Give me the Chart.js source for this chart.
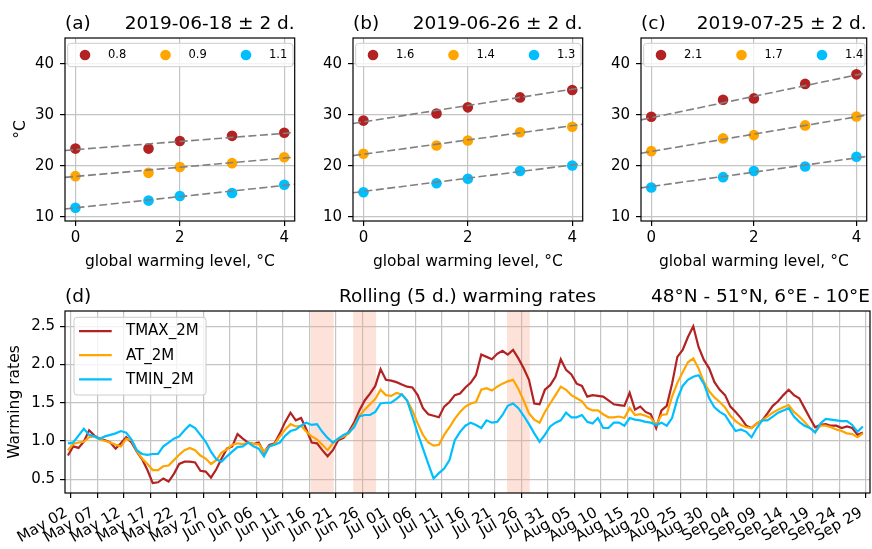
<!DOCTYPE html>
<html lang="en">
<head>
  <meta charset="UTF-8">
  <title>Warming rates</title>
  <script src="https://cdn.jsdelivr.net/npm/chart.js@4.4.1/dist/chart.umd.min.js"></script>
  <style>
    body { margin: 0; background: #fff; }
    #fig { position: relative; width: 872px; height: 549px; overflow: hidden; }
    #fig canvas { position: absolute; }
  </style>
</head>
<body>
<div id="fig">
  <canvas id="chartA" width="300" height="280" style="left:0;top:0"></canvas>
  <canvas id="chartB" width="300" height="280" style="left:288px;top:0"></canvas>
  <canvas id="chartC" width="296" height="280" style="left:576px;top:0"></canvas>
  <canvas id="chartD" width="872" height="269" style="left:0;top:280px"></canvas>
</div>

<script>
// ---- top panels: temperature vs global warming level ----
const gwl = [0, 1.4, 2, 3, 4];
const gwlRange = [-0.2, 4.2];
const gwlTicks = [0, 2, 4];
const tempRange = [9.2, 45.1];
const tempTicks = [10, 20, 30, 40];
const panelDates = ['2019-06-18', '2019-06-26', '2019-07-25'];
const halfWindow = 2;

const tmaxA = [23.4, 23.4, 24.9, 25.9, 26.5];
const atA   = [18.0, 18.65, 19.8, 20.55, 21.7];
const tminA = [11.8, 13.2, 14.1, 14.7, 16.3];
const slopesA = [0.8, 0.9, 1.1];
const interceptsA = [23.2, 17.94, 11.78];

const tmaxB = [28.9, 30.3, 31.5, 33.45, 34.9];
const atB   = [22.4, 24.0, 25.0, 26.6, 27.7];
const tminB = [14.85, 16.6, 17.5, 19.0, 20.1];
const slopesB = [1.6, 1.4, 1.3];
const interceptsB = [28.65, 22.3, 15.0];

const tmaxC = [29.65, 33.0, 33.25, 36.1, 37.97];
const atC   = [22.9, 25.4, 26.05, 27.95, 29.7];
const tminC = [15.77, 17.8, 19.0, 19.9, 21.8];
const slopesC = [2.1, 1.7, 1.4];
const interceptsC = [29.45, 22.84, 15.98];

// ---- bottom panel: rolling warming rates, daily from May 01 (day -1 = May 01, day 0 = May 02) ----
const firstDay = -1;
const dayOffset = 0.45;   // daily values sit a little after midnight on the axis
const tmaxRate = [
  0.81, 0.93, 0.91, 0.99, 1.14, 1.07, 1.03, 1.01, 0.98, 0.90,
  0.97, 1.05, 0.98, 0.86, 0.76, 0.62, 0.45, 0.46, 0.51, 0.47,
  0.57, 0.70, 0.73, 0.73, 0.72, 0.61, 0.60, 0.52, 0.63, 0.77,
  0.90, 0.93, 1.09, 1.03, 0.98, 0.96, 0.98, 0.85, 0.95, 0.97,
  1.10, 1.25, 1.37, 1.27, 1.30, 1.15, 0.98, 0.97, 0.88, 0.80,
  0.88, 1.01, 1.04, 1.12, 1.24, 1.40, 1.53, 1.62, 1.72, 1.94,
  1.80, 1.79, 1.77, 1.74, 1.71, 1.70, 1.60, 1.43, 1.35, 1.33,
  1.31, 1.45, 1.51, 1.60, 1.62, 1.70, 1.76, 1.86, 2.13, 2.10,
  2.07, 2.14, 2.18, 2.13, 2.19, 2.08, 1.95, 1.80, 1.49, 1.48,
  1.67, 1.73, 1.84, 2.07, 1.93, 1.87, 1.75, 1.72, 1.58, 1.60,
  1.59, 1.58, 1.53, 1.48, 1.47, 1.46, 1.63, 1.41, 1.45, 1.38,
  1.35, 1.17, 1.40, 1.46, 1.75, 2.10, 2.19, 2.36, 2.50, 2.23,
  2.06, 1.95, 1.77, 1.67, 1.60, 1.45, 1.38, 1.30, 1.20, 1.17,
  1.23, 1.27, 1.36, 1.46, 1.52, 1.60, 1.67, 1.60, 1.56, 1.43,
  1.30, 1.18, 1.21, 1.22, 1.20, 1.20, 1.17, 1.19, 1.17, 1.08,
  1.11
];
const atRate = [
  0.88, 0.96, 0.98, 0.99, 1.05, 1.06, 1.02, 1.00, 0.98, 0.95,
  0.93, 1.03, 1.01, 0.87, 0.77, 0.70, 0.62, 0.62, 0.67, 0.68,
  0.75, 0.82, 0.88, 0.91, 0.88, 0.81, 0.77, 0.70, 0.75, 0.85,
  0.89, 0.95, 0.97, 0.96, 0.98, 0.96, 0.96, 0.86, 0.93, 0.96,
  1.06, 1.15, 1.22, 1.19, 1.20, 1.12, 1.06, 1.02, 0.95, 0.88,
  0.97, 1.03, 1.06, 1.10, 1.20, 1.33, 1.41, 1.48, 1.55, 1.67,
  1.60, 1.59, 1.63, 1.61, 1.53, 1.40, 1.23, 1.08, 0.98, 0.94,
  0.95, 1.08, 1.18, 1.29, 1.38, 1.45, 1.49, 1.51, 1.67, 1.69,
  1.66, 1.71, 1.75, 1.78, 1.80, 1.68, 1.53, 1.36, 1.28, 1.24,
  1.38, 1.49, 1.60, 1.71, 1.67, 1.60, 1.56, 1.52, 1.43, 1.40,
  1.40, 1.35, 1.31, 1.31, 1.32, 1.30, 1.43, 1.34, 1.35, 1.33,
  1.30, 1.21, 1.34, 1.35, 1.58, 1.76, 1.90, 2.03, 2.08, 1.95,
  1.77, 1.65, 1.57, 1.51, 1.44, 1.33, 1.26, 1.21, 1.18, 1.17,
  1.23, 1.27, 1.32, 1.37, 1.41, 1.44, 1.47, 1.38, 1.32, 1.25,
  1.17, 1.12, 1.20, 1.20, 1.18, 1.15, 1.13, 1.10, 1.09, 1.05,
  1.10
];
const tminRate = [
  0.97, 0.98, 1.07, 1.16, 1.08, 1.06, 1.03, 1.06, 1.08, 1.10,
  1.13, 1.11, 1.02, 0.88, 0.83, 0.82, 0.83, 0.83, 0.93, 0.98,
  1.03, 1.06, 1.14, 1.21, 1.17, 1.08, 0.99, 0.86, 0.76, 0.73,
  0.80, 0.86, 0.92, 0.93, 0.98, 0.93, 0.90, 0.80, 0.93, 0.95,
  0.98, 1.07, 1.13, 1.15, 1.20, 1.24, 1.21, 1.22, 1.12, 1.04,
  0.98, 1.03, 1.08, 1.11, 1.18, 1.32, 1.34, 1.34, 1.38, 1.49,
  1.50, 1.50, 1.55, 1.61, 1.53, 1.32, 1.10, 0.90, 0.70, 0.51,
  0.58, 0.64, 0.75, 1.01, 1.12, 1.20, 1.24, 1.21, 1.17, 1.27,
  1.24, 1.25, 1.34, 1.46, 1.49, 1.43, 1.33, 1.22, 1.10, 0.99,
  1.08, 1.19, 1.24, 1.27, 1.37, 1.31, 1.31, 1.34, 1.25, 1.23,
  1.30, 1.17, 1.17, 1.24, 1.24, 1.20, 1.30, 1.28, 1.27, 1.25,
  1.24, 1.21, 1.24, 1.20, 1.30, 1.55, 1.72, 1.80, 1.84, 1.86,
  1.75, 1.56, 1.44, 1.38, 1.34, 1.23, 1.13, 1.15, 1.12, 1.05,
  1.17, 1.27, 1.27, 1.32, 1.37, 1.40, 1.43, 1.32, 1.25, 1.20,
  1.17, 1.11, 1.23, 1.29, 1.28, 1.27, 1.26, 1.26, 1.21, 1.12,
  1.19
];
const dayTickLabels = ['May 02', 'May 07', 'May 12', 'May 17', 'May 22', 'May 27',
  'Jun 01', 'Jun 06', 'Jun 11', 'Jun 16', 'Jun 21', 'Jun 26', 'Jul 01', 'Jul 06',
  'Jul 11', 'Jul 16', 'Jul 21', 'Jul 26', 'Jul 31', 'Aug 05', 'Aug 10', 'Aug 15',
  'Aug 20', 'Aug 25', 'Aug 30', 'Sep 04', 'Sep 09', 'Sep 14', 'Sep 19', 'Sep 24', 'Sep 29'];
const tickStepDays = 5;
const dayRange = [-1.1, 150.8];
const rateRange = [0.32, 2.70];
const rateTicks = [0.5, 1.0, 1.5, 2.0, 2.5];
const eventDays = [47, 55, 84];   // Jun 18, Jun 26, Jul 25

Chart.defaults.font.family = "'DejaVu Sans', sans-serif";
Chart.defaults.color = '#000';
Chart.defaults.animation = false;

const colors = ['#b22222', '#ffa500', '#00bfff'];
const gridColor = '#c4c4c4';
const FONT = "'DejaVu Sans', sans-serif";

// titles, spines, frame legend and shaded windows, drawn the matplotlib way
const panelDeco = {
  id: 'panelDeco',
  beforeDatasetsDraw(chart, args, opts) {
    if (!opts.spans) return;
    const ctx = chart.ctx, ca = chart.chartArea, x = chart.scales.x;
    ctx.save();
    ctx.beginPath();
    ctx.rect(ca.left, ca.top, ca.width, ca.height);
    ctx.clip();
    ctx.fillStyle = 'rgba(250, 160, 130, 0.3)';
    opts.spans.forEach(function (s) {
      const x0 = x.getPixelForValue(s[0]);
      const x1 = x.getPixelForValue(s[1]);
      ctx.fillRect(x0, ca.top, x1 - x0, ca.height);
    });
    ctx.restore();
  },
  afterDraw(chart, args, opts) {
    const ctx = chart.ctx, ca = chart.chartArea;
    ctx.save();
    ctx.strokeStyle = '#000';
    ctx.lineWidth = 1.2;
    ctx.strokeRect(ca.left, ca.top, ca.width, ca.height);

    // titles
    ctx.fillStyle = '#000';
    ctx.font = '18.5px ' + FONT;
    ctx.textBaseline = 'alphabetic';
    const ty = ca.top - 9.5;
    if (opts.left) { ctx.textAlign = 'left'; ctx.fillText(opts.left, ca.left, ty); }
    if (opts.center) { ctx.textAlign = 'center'; ctx.fillText(opts.center, (ca.left + ca.right) / 2, ty); }
    if (opts.right) { ctx.textAlign = 'right'; ctx.fillText(opts.right, ca.right, ty); }

    // legend
    const L = opts.legend;
    if (L) {
      const items = chart.data.datasets.filter(d => d.label);
      const bx = ca.left + L.x, by = ca.top + L.y;
      const bw = L.w || (ca.width - L.x - 1.7), bh = L.h;
      ctx.fillStyle = 'rgba(255,255,255,0.8)';
      ctx.strokeStyle = '#cccccc';
      ctx.lineWidth = 1;
      ctx.beginPath();
      if (ctx.roundRect) ctx.roundRect(bx, by, bw, bh, 3); else ctx.rect(bx, by, bw, bh);
      ctx.fill();
      ctx.stroke();
      ctx.font = L.font;
      ctx.textAlign = 'left';
      ctx.textBaseline = 'middle';
      items.forEach(function (d, i) {
        if (L.mode === 'row') {
          const mx = bx + 17.3 + i * L.step, my = by + bh / 2;
          ctx.fillStyle = d.backgroundColor;
          ctx.beginPath();
          ctx.arc(mx, my, 5.3, 0, Math.PI * 2);
          ctx.fill();
          ctx.fillStyle = '#000';
          ctx.fillText(d.label, bx + 40.3 + i * L.step, my + 0.5);
        } else {
          const my = by + 13.8 + i * L.step;
          ctx.strokeStyle = d.borderColor;
          ctx.lineWidth = 2.2;
          ctx.beginPath();
          ctx.moveTo(bx + 5, my);
          ctx.lineTo(bx + 37.7, my);
          ctx.stroke();
          ctx.fillStyle = '#000';
          ctx.fillText(d.label, bx + 52, my + 0.5);
        }
      });
    }
    ctx.restore();
  }
};

function gridOpts() {
  return { color: gridColor, lineWidth: 1.2, tickColor: '#000', tickWidth: 1.2, tickLength: 5 };
}

function topPanel(id, letter, date, tmax, at, tmin, slopes, intercepts, yTitle, padRight) {
  const series = [tmax, at, tmin];
  const datasets = [];
  series.forEach(function (vals, k) {
    datasets.push({
      label: slopes[k].toFixed(1),
      data: vals.map((y, i) => ({ x: gwl[i], y: y })),
      backgroundColor: colors[k],
      pointRadius: 5.3, pointHoverRadius: 5.3, borderWidth: 0,
      order: 1
    });
  });
  // fitted trend lines across the axis range
  series.forEach(function (vals, k) {
    datasets.push({
      data: gwlRange.map(x => ({ x: x, y: intercepts[k] + slopes[k] * x })),
      showLine: true, borderColor: '#808080', borderWidth: 1.6, borderDash: [8, 3.5],
      pointRadius: 0, order: 0
    });
  });

  new Chart(document.getElementById(id), {
    type: 'scatter',
    data: { datasets: datasets },
    options: {
      responsive: false,
      devicePixelRatio: 1,
      animation: false,
      layout: { padding: { top: 38, right: padRight, left: 0, bottom: 0 } },
      plugins: {
        legend: { display: false },
        tooltip: { enabled: false },
        panelDeco: {
          left: '(' + letter + ')',
          right: date + ' \u00b1 ' + halfWindow + ' d.',
          legend: { mode: 'row', x: 2.7, y: 5.3, h: 23.4, step: 80.5, font: '11.5px ' + FONT }
        }
      },
      scales: {
        x: {
          type: 'linear', min: gwlRange[0], max: gwlRange[1],
          afterBuildTicks: s => { s.ticks = gwlTicks.map(v => ({ value: v })); },
          afterFit: s => { s.height = 59; s.paddingLeft = 0; s.paddingRight = 0; },
          grid: gridOpts(),
          border: { display: false },
          ticks: { font: { size: 15 }, padding: 3, maxRotation: 0 },
          title: { display: true, text: 'global warming level, \u00b0C', font: { size: 15.5 }, padding: { top: 0, bottom: 9 } }
        },
        y: {
          type: 'linear', min: tempRange[0], max: tempRange[1],
          afterBuildTicks: s => { s.ticks = tempTicks.map(v => ({ value: v })); },
          afterFit: s => { s.width = 65; s.paddingTop = 0; s.paddingBottom = 0; },
          grid: gridOpts(),
          border: { display: false },
          ticks: { font: { size: 15 }, padding: 6 },
          title: { display: !!yTitle, text: yTitle || '', font: { size: 15.5 }, padding: { top: 11.7, bottom: 0 } }
        }
      }
    },
    plugins: [panelDeco]
  });
}

topPanel('chartA', 'a', panelDates[0], tmaxA, atA, tminA, slopesA, interceptsA, '\u00b0C', 5);
topPanel('chartB', 'b', panelDates[1], tmaxB, atB, tminB, slopesB, interceptsB, null, 5);
topPanel('chartC', 'c', panelDates[2], tmaxC, atC, tminC, slopesC, interceptsC, null, 2);

// ---- bottom panel ----
const rateSeries = [
  { label: 'TMAX_2M', values: tmaxRate, color: colors[0], order: 3 },
  { label: 'AT_2M', values: atRate, color: colors[1], order: 2 },
  { label: 'TMIN_2M', values: tminRate, color: colors[2], order: 1 }
];

new Chart(document.getElementById('chartD'), {
  type: 'line',
  data: {
    datasets: rateSeries.map(s => ({
      label: s.label,
      data: s.values.map((v, i) => ({ x: firstDay + i + dayOffset, y: v })),
      borderColor: s.color,
      backgroundColor: s.color,
      borderWidth: 2.2,
      pointRadius: 0,
      tension: 0,
      order: s.order
    }))
  },
  options: {
    responsive: false,
    devicePixelRatio: 1,
    animation: false,
    layout: { padding: { top: 31, right: 2, left: 0, bottom: 0 } },
    plugins: {
      legend: { display: false },
      tooltip: { enabled: false },
      panelDeco: {
        left: '(d)',
        center: 'Rolling (5 d.) warming rates',
        right: '48\u00b0N - 51\u00b0N, 6\u00b0E - 10\u00b0E',
        spans: eventDays.map(d => [d + dayOffset - halfWindow - 0.15, d + dayOffset + halfWindow + 0.15]),
        legend: { mode: 'column', x: 9, y: 6.3, w: 132, h: 77.7, step: 24.1, font: '15px ' + FONT }
      }
    },
    scales: {
      x: {
        type: 'linear', min: dayRange[0], max: dayRange[1],
        afterBuildTicks: s => { s.ticks = dayTickLabels.map((_, i) => ({ value: i * tickStepDays })); },
        afterFit: s => { s.height = 56; s.paddingLeft = 0; s.paddingRight = 0; },
        grid: gridOpts(),
        border: { display: false },
        ticks: {
          font: { size: 15 }, padding: 6, minRotation: 30, maxRotation: 30, autoSkip: false,
          labelOffset: -4.5,
          callback: (v, i) => dayTickLabels[i]
        }
      },
      y: {
        type: 'linear', min: rateRange[0], max: rateRange[1],
        afterBuildTicks: s => { s.ticks = rateTicks.map(v => ({ value: v })); },
        afterFit: s => { s.width = 65; s.paddingTop = 0; s.paddingBottom = 0; },
        grid: gridOpts(),
        border: { display: false },
        ticks: { font: { size: 15 }, padding: 5, callback: v => v.toFixed(1) },
        title: { display: true, text: 'Warming rates', font: { size: 15.5 }, padding: { top: 5.7, bottom: 0 } }
      }
    }
  },
  plugins: [panelDeco]
});
</script>
</body>
</html>
